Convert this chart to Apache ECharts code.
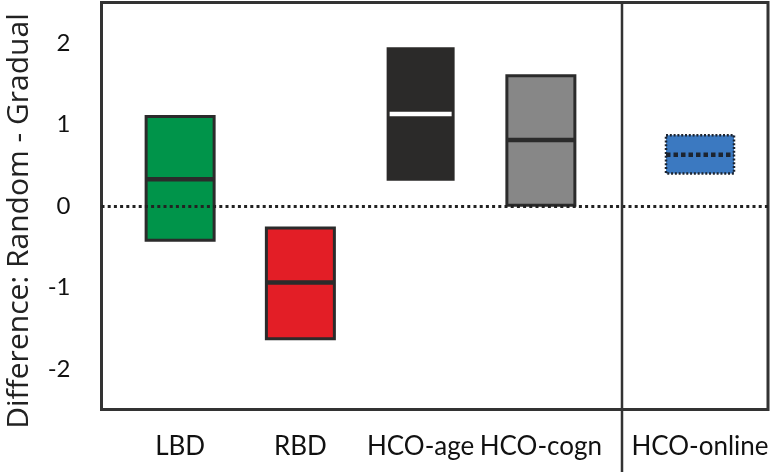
<!DOCTYPE html>
<html>
<head>
<meta charset="utf-8">
<script src="https://cdn.jsdelivr.net/npm/echarts@6/dist/echarts.min.js"></script>
<style>
html,body{margin:0;padding:0;background:#ffffff;}
#chart{width:774px;height:476px;}
</style>
</head>
<body>
<div id="chart"></div>
<script>
// ---- data ----
const categories   = ['LBD', 'RBD', 'HCO-age', 'HCO-cogn', 'HCO-online'];
const lowValues    = [-0.42, -1.63, 0.31, 0.01, 0.40];
const medianValues = [0.33, -0.94, 1.13, 0.81, 0.63];
const highValues   = [1.10, -0.27, 1.95, 1.60, 0.87];
const yAxisTitle   = 'Difference: Random - Gradual';
const mainCount    = 4; // first four groups left of the divider

// ---- styles ----
const FONT = 'Lato, "Open Sans", sans-serif';
const TITLE_FONT = '"Open Sans", Lato, sans-serif';
const BOX_W = 68;
const boxStyles = [
  {fill: '#00944a', stroke: '#2b2b2b', lw: 3, dash: null, median: '#2b2b2b', mDash: null, inset: 0},
  {fill: '#e31e26', stroke: '#2b2b2b', lw: 3, dash: null, median: '#2b2b2b', mDash: null, inset: 0},
  {fill: '#2b2a29', stroke: null,      lw: 0, dash: null, median: '#ffffff', mDash: null, inset: 3},
  {fill: '#878787', stroke: '#2b2b2b', lw: 3, dash: null, median: '#2b2b2b', mDash: null, inset: 0},
  {fill: '#3b79c1', stroke: '#1c2430', lw: 2.5, dash: [2, 1.8], median: '#1c2430', mDash: [4.5, 3], inset: 0}
];

function boxData(from, to) {
  const out = [];
  for (let i = from; i < to; i++) {
    out.push([i - from, lowValues[i], medianValues[i], highValues[i]]);
  }
  return out;
}

function makeRender(offset) {
  return function (params, api) {
    const s = boxStyles[offset + params.dataIndex];
    const idx = api.value(0);
    const pLow = api.coord([idx, api.value(1)]);
    const pMed = api.coord([idx, api.value(2)]);
    const pHigh = api.coord([idx, api.value(3)]);
    const xc = pLow[0];
    const rectStyle = {fill: s.fill};
    if (s.stroke) {
      rectStyle.stroke = s.stroke;
      rectStyle.lineWidth = s.lw;
      if (s.dash) rectStyle.lineDash = s.dash;
    }
    const medStyle = {stroke: s.median, lineWidth: 4.5};
    if (s.mDash) medStyle.lineDash = s.mDash;
    return {
      type: 'group',
      children: [
        {type: 'rect', shape: {x: xc - BOX_W / 2, y: pHigh[1], width: BOX_W, height: pLow[1] - pHigh[1]}, style: rectStyle},
        {type: 'line', shape: {x1: xc - BOX_W / 2 + s.inset, y1: pMed[1], x2: xc + BOX_W / 2 - s.inset, y2: pMed[1]}, style: medStyle}
      ]
    };
  };
}

const chart = echarts.init(document.getElementById('chart'), null, {renderer: 'canvas'});

const yBase = {type: 'value', min: -2.5, max: 2.5, splitLine: {show: false}, axisTick: {show: false}, axisLine: {show: false}};
const xLabel = {fontFamily: FONT, fontSize: 26, color: '#111111', margin: 24, interval: 0};

const option = {
  animation: false,
  backgroundColor: '#ffffff',
  grid: [
    {left: 101.5, right: 6, top: 2.5, bottom: 66.5, outerBoundsMode: 'none', containLabel: false,
     show: true, borderColor: '#333333', borderWidth: 3, backgroundColor: 'transparent'},
    {left: 120, right: 173, top: 2.5, bottom: 66.5, outerBoundsMode: 'none', containLabel: false},
    {left: 640, right: 14, top: 2.5, bottom: 66.5, outerBoundsMode: 'none', containLabel: false}
  ],
  xAxis: [
    {gridIndex: 0, type: 'value', min: 0, max: 1, show: false},
    {gridIndex: 1, type: 'category', data: categories.slice(0, mainCount),
     axisLine: {show: false}, axisTick: {show: false}, splitLine: {show: false}, axisLabel: xLabel},
    {gridIndex: 2, type: 'category', data: categories.slice(mainCount),
     axisLine: {show: false}, axisTick: {show: false}, splitLine: {show: false}, axisLabel: xLabel}
  ],
  yAxis: [
    Object.assign({}, yBase, {gridIndex: 0,
      axisLabel: {fontFamily: FONT, fontSize: 24, color: '#111111', margin: 31, showMinLabel: false, showMaxLabel: false},
      name: yAxisTitle, nameLocation: 'middle', nameRotate: 90, nameGap: 67,
      nameTextStyle: {fontFamily: TITLE_FONT, fontSize: 30, color: '#222222', padding: [0, 30, 0, 0]}}),
    Object.assign({}, yBase, {gridIndex: 1, axisLabel: {show: false}}),
    Object.assign({}, yBase, {gridIndex: 2, axisLabel: {show: false}})
  ],
  series: [
    {type: 'custom', xAxisIndex: 1, yAxisIndex: 1, data: boxData(0, mainCount), renderItem: makeRender(0), z: 2},
    {type: 'custom', xAxisIndex: 2, yAxisIndex: 2, data: boxData(mainCount, categories.length), renderItem: makeRender(mainCount), z: 2},
    {type: 'line', xAxisIndex: 0, yAxisIndex: 0, data: [], z: 5, silent: true,
     markLine: {silent: true, symbol: 'none', label: {show: false},
       lineStyle: {type: [3, 3.2], width: 3, color: '#222222'},
       data: [{yAxis: 0}]}}
  ],
  graphic: [
    {type: 'line', z: 10, shape: {x1: 622, y1: 2, x2: 622, y2: 472}, style: {stroke: '#333333', lineWidth: 2.5}}
  ]
};

chart.setOption(option);
</script>
</body>
</html>
